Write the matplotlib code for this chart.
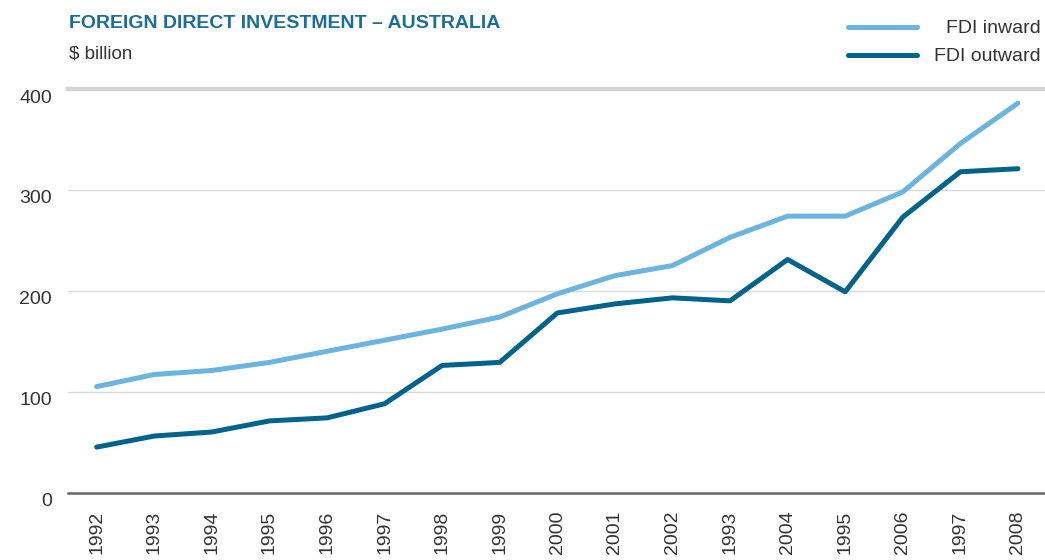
import numpy as np
import matplotlib
matplotlib.use("Agg")
import matplotlib.pyplot as plt
from matplotlib.lines import Line2D
from matplotlib.transforms import ScaledTranslation

# Data ($ billion); year labels kept as printed
years = ['1992', '1993', '1994', '1995', '1996', '1997', '1998', '1999', '2000',
         '2001', '2002', '1993', '2004', '1995', '2006', '1997', '2008']
fdi_inward = [105, 117, 121, 129, 140, 151, 162, 174, 197, 215, 225, 253, 274, 274, 298, 346, 386]
fdi_outward = [45, 56, 60, 71, 74, 88, 126, 129, 178, 187, 193, 190, 231, 199, 273, 318, 321]
y_ticks = [0, 100, 200, 300, 400]

light_blue = '#6cb4e0'
dark_blue = '#00638a'
title_color = '#1a6f98'
text_color = '#333333'

plt.rcParams['font.family'] = ['Liberation Sans', 'DejaVu Sans']

fig = plt.figure(figsize=(10.45, 5.6), dpi=100)
ax = fig.add_axes([0.0655, 0.1205, 0.9345, 0.7205])

x = np.arange(len(years))
ax.plot(x, fdi_inward, color=light_blue, lw=3.6, solid_capstyle='round', solid_joinstyle='round', zorder=3)
ax.plot(x, fdi_outward, color=dark_blue, lw=3.6, solid_capstyle='round', solid_joinstyle='round', zorder=3)

ax.set_xlim(-0.49, 16.47)
ax.set_ylim(0, 400)
ax.set_xticks(x)
ax.set_xticklabels(years, rotation=90, fontsize=14, color=text_color)
ax.set_yticks(y_ticks)
ax.set_yticklabels([str(v) for v in y_ticks], fontsize=14, color=text_color)
ax.tick_params(axis='both', length=0)
ax.tick_params(axis='x', pad=13)
ax.tick_params(axis='y', pad=12)

# y labels sit a little below their gridlines
offset = ScaledTranslation(0, -7 / 100, fig.dpi_scale_trans)
for lab in ax.get_yticklabels():
    lab.set_transform(lab.get_transform() + offset)

for s in ['top', 'right', 'left']:
    ax.spines[s].set_visible(False)
ax.spines['bottom'].set_color('#666666')
ax.spines['bottom'].set_linewidth(1.8)

for v in y_ticks[1:-1]:
    ax.axhline(v, color='#d9d9d9', lw=1.0, zorder=1)
ax.axhline(y_ticks[-1], color='#d4d4d4', lw=3.2, zorder=1, clip_on=False)

fig.text(0.066, 0.958, 'FOREIGN DIRECT INVESTMENT – AUSTRALIA', fontsize=14,
         color=title_color, fontweight='bold', va='center', ha='left')
fig.text(0.066, 0.903, '$ billion', fontsize=13.5, color=text_color, va='center', ha='left')

# legend, drawn by hand so the labels are right-aligned
for yy, col, lab in [(0.952, light_blue, 'FDI inward'), (0.902, dark_blue, 'FDI outward')]:
    fig.add_artist(Line2D([0.8115, 0.8775], [yy, yy], transform=fig.transFigure,
                          color=col, lw=3.6, solid_capstyle='round'))
    fig.text(0.996, yy, lab, fontsize=14, color=text_color, ha='right', va='center_baseline')

fig.savefig('out.png', dpi=100)
